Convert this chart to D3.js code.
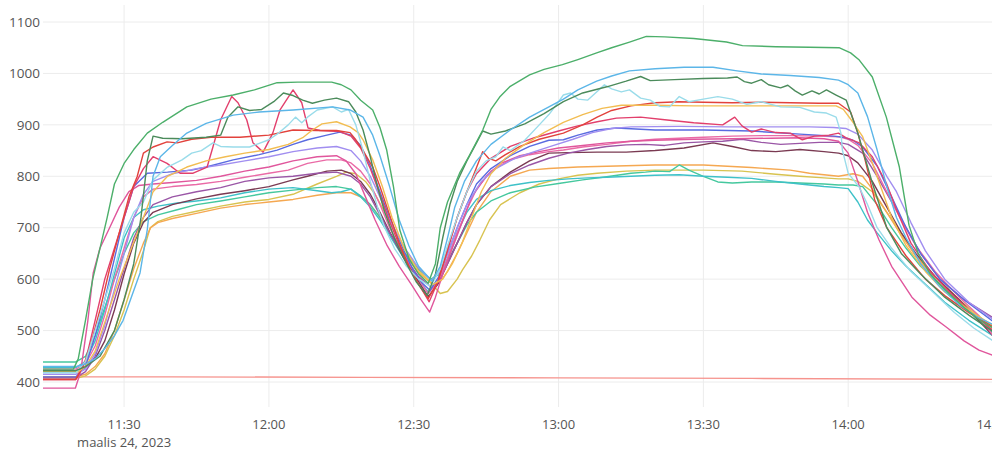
<!DOCTYPE html>
<html>
<head>
<meta charset="utf-8">
<script src="https://cdn.jsdelivr.net/npm/d3@7"></script>
<style>
  html, body { margin: 0; padding: 0; background: #fff; }
  svg { display: block; }
  text { font-family: "Open Sans", "DejaVu Sans", sans-serif; }
</style>
</head>
<body>
<svg id="chart" width="992" height="452"></svg>
<script>
// ---------- DATA (minutes after 11:00 on 24 March 2023, value) ----------
const dateLabel = "maalis 24, 2023";
const yTicks = [400, 500, 600, 700, 800, 900, 1000, 1100];
const xStartMinute = 13.2;
const xEndMinute = 210;

const sGreen = [[13.2,425],[19.5,425],[20.5,445],[22,520],[23.5,600],[25,660],[26.5,720],[28,785],[30,825],[32,852],[34.8,884],[38,905],[43,935],[48,950],[52.6,958],[57,968],[61.7,982],[66,983],[73,983],[75,978],[77,968],[79,948],[81.5,929],[83,895],[84.4,851],[85.8,780],[87.1,696],[89,640],[91,610],[93,592],[94.5,630],[95.5,700],[97,750],[99.5,806],[101.5,840],[104.3,890],[106,930],[107.8,954],[110,975],[114,997],[117,1008],[120.8,1017],[124,1027],[127.9,1040],[131,1050],[134.7,1061],[138.2,1072],[142,1071],[148,1068],[154.8,1061],[158.1,1054],[165,1052],[172,1051],[178.1,1050],[180.5,1040],[182.3,1026],[185,993],[187.9,915],[190.6,818],[192.6,705],[194.5,650],[197,610],[200,580],[204,545],[207,522],[210,505]];
const sLightBlue = [[13.2,430],[20,430],[22,435],[24,445],[26,465],[28,490],[29.8,520],[31.5,565],[33.3,612],[34.8,696],[36,800],[37.5,838],[40,860],[43,884],[47,903],[52.6,919],[58,925],[65,929],[73.2,935],[76.8,929],[79.5,915],[81.5,880],[83,840],[85,780],[87,715],[89,665],[91,625],[93.8,596],[95.5,625],[97,680],[98.5,740],[100.5,790],[103,830],[106,862],[110,890],[114,915],[118,935],[121,950],[124,968],[127.9,985],[131,995],[134.7,1005],[140,1009],[146,1012],[152,1012],[157,1005],[162,999],[168,996],[174,992],[178,987],[180,978],[182,962],[184,916],[186,851],[188,780],[190,720],[192,680],[195,630],[199,585],[203,550],[207,525],[210,512]];
const sDarkGreen = [[13.2,422],[20,422],[22,430],[25,450],[28,500],[30,560],[32,630],[33.5,720],[34.8,830],[36,878],[38,874],[42,873],[47,876],[50,880],[51.5,915],[53.6,935],[56,928],[58.5,930],[61,945],[63,962],[65,957],[67,948],[69,942],[71.5,948],[74,952],[76.5,945],[78,925],[79.5,890],[81,838],[82.5,779],[84,730],[86,680],[88.5,630],[90.5,595],[92.8,568],[94.5,610],[96,680],[97.5,745],[99,790],[101,830],[103,865],[104.3,888],[106,882],[109,888],[113,902],[117,922],[121,945],[125,962],[130,974],[134,985],[137,994],[139,986],[144,988],[150,990],[155,991],[157,993],[158.5,984],[160,981],[162,988],[163.5,978],[166,972],[167.5,977],[169,966],[170.5,958],[172.5,966],[174,960],[175.5,968],[177.5,958],[179.6,948],[182,884],[185,787],[188,700],[191,650],[195,610],[200,565],[205,530],[210,498]];
const sLightCyan = [[13.2,418],[20,418],[22,440],[24,500],[26,560],[28,620],[30,690],[32,730],[34,750],[36,793],[39,818],[42,832],[44,845],[46,850],[48.4,865],[50,858],[52.6,857],[56,857],[58,864],[60,871],[62,884],[64,900],[65.5,915],[66.8,904],[68,915],[70,929],[73.2,935],[75,925],[76.5,930],[78,900],[79.5,850],[81,790],[82.5,740],[84,700],[86,660],[88.5,625],[91,600],[93.5,586],[95.5,620],[97,665],[99,720],[101,770],[103,810],[105,830],[107,838],[108.5,857],[110,850],[113,870],[116,900],[118,920],[120,945],[121,958],[122.5,962],[124,950],[126,948],[128,965],[129.5,978],[131,970],[133,964],[134.7,968],[137,952],[139,948],[141,936],[143,935],[145,955],[147,945],[150,950],[153,955],[156,950],[159,940],[162,945],[166,935],[170,934],[173,925],[175.5,923],[177.5,915],[178.5,884],[178.8,851],[180,806],[182.3,779],[184,745],[186,700],[189,660],[193,615],[197,580],[202,535],[206,505],[210,480]];
const sRed = [[13.2,405],[20,405],[21.5,430],[23,470],[25,540],[27,620],[29,690],[31,760],[32.7,799],[34,845],[36,857],[38.9,867],[41,865],[44,872],[48,876],[54,876],[60,880],[65,890],[70,889],[74,889],[76.8,885],[78,871],[79.5,850],[81.5,818],[83,780],[85,725],[87,670],[89,625],[91,590],[93,562],[95,595],[97,660],[99,720],[101,770],[102.5,805],[104.3,848],[105.5,835],[107,830],[109,842],[112,858],[116,872],[121,884],[125,900],[128,915],[131,928],[135,937],[140,943],[145,945],[150,944],[156,943],[162,944],[168,943],[174,942],[178,942],[180.5,925],[182,884],[183.5,832],[185.5,754],[188,700],[192,645],[196,600],[200,568],[205,535],[210,508]];
const sGold = [[13.2,420],[20.5,420],[22,430],[24,460],[26.5,530],[29,600],[31.5,660],[34,720],[36,770],[39,800],[43,818],[47,830],[51,838],[55,845],[60,852],[64,862],[67,875],[69,890],[71,902],[74,906],[76.8,896],[78.5,885],[79.5,871],[81.5,832],[83.5,780],[85.5,720],[88,660],[91,615],[94,590],[96,600],[98,630],[100,670],[102,720],[104,770],[106,805],[109,835],[113,862],[117,885],[121,905],[125,920],[129,932],[133,938],[140,938],[148,937],[156,937],[164,937],[172,937],[177.5,937],[179,930],[181,905],[183,877],[185,826],[187,773],[189,720],[192,665],[196,615],[200,575],[205,540],[210,510]];
const sCrimson = [[13.2,405],[20,405],[22,440],[24,520],[26,600],[28,660],[30,720],[32,780],[34,815],[36,838],[38.9,825],[41.6,806],[44.3,806],[47.2,818],[48.4,857],[50,910],[52.3,955],[53.6,943],[55.4,910],[56.7,865],[58.8,847],[60.8,884],[62.3,929],[65,968],[66.8,943],[68.1,894],[70.6,889],[74.7,887],[77,878],[79,855],[81,815],[83,765],[85,712],[87.5,655],[90,605],[91.8,578],[93.2,556],[95,595],[97,655],[99,720],[101,770],[103,805],[106,835],[110,858],[115,875],[120,888],[124,898],[128,906],[132,913],[137,915],[142,910],[148,904],[154,900],[156.5,915],[158,898],[160,886],[162,892],[165,885],[168,884],[170.5,871],[173,878],[176,880],[178,884],[179.5,875],[182.3,865],[185,838],[187.9,787],[190,735],[193,670],[197,615],[201,575],[205,540],[210,500]];
const sLavender = [[13.2,415],[20,415],[22,425],[24,455],[26,510],[28,580],[30,650],[32,720],[34,765],[36,790],[40,805],[45,815],[50,822],[55,830],[60,838],[65,848],[70,855],[74,858],[77,850],[79,830],[81,800],[83,760],[85,715],[88,662],[91,622],[93.6,598],[95.5,615],[97,650],[99,700],[101,745],[104,790],[107,815],[111,835],[115,848],[119,860],[123,872],[127,885],[131,893],[135,896],[145,897],[155,896],[165,896],[172,896],[177,895],[179.5,893],[182,882],[185,851],[188,800],[190,770],[193,710],[196,655],[200,600],[205,555],[210,522]];
const sBlue = [[13.2,410],[20,410],[22,430],[24,490],[26,560],[28,640],[30,720],[32,780],[34.8,806],[39,808],[44,812],[47,818],[52.6,832],[58,842],[61.7,851],[65,862],[68,871],[72,880],[74.7,886],[77,880],[79,860],[81,820],[83,770],[85,720],[87.5,665],[90,615],[91.8,592],[93.4,578],[95.2,605],[97,650],[99,700],[101,745],[103,785],[106,815],[110,840],[114,858],[118,870],[121,871],[124,880],[128,890],[132,894],[140,890],[150,890],[160,888],[170,882],[177,878],[179,876],[181,870],[183,857],[186,820],[189,760],[192,700],[195,650],[199,600],[204,560],[210,518]];
const sPink = [[13.2,425],[20,425],[22,435],[24,470],[26,530],[28,600],[30,660],[32,720],[34,760],[36,775],[40,780],[45,784],[50,790],[55,798],[60,806],[64,812],[68,825],[72,832],[75,832],[77,826],[79,810],[81,785],[83,745],[85,700],[88,645],[91,600],[93,572],[95,595],[97,640],[99,690],[101,735],[103,775],[106,810],[110,832],[114,842],[118,848],[121,851],[125,857],[130,862],[135,868],[140,872],[145,874],[150,876],[156,878],[162,879],[168,879],[174,878],[178,877],[180,872],[182,860],[185,825],[188,770],[191,715],[194,665],[198,615],[203,565],[207,530],[210,490]];
const sDeepPink = [[13.2,388],[19.9,388],[21,420],[22.5,520],[23.6,612],[25,660],[27,700],[29,740],[31,770],[33,782],[36,785],[40,788],[45,792],[50,800],[55,810],[60,818],[65,830],[70,838],[74,840],[76,830],[78,805],[80,760],[82,715],[84.5,665],[87,625],[89.5,590],[91.5,560],[93.3,536],[94.5,565],[96,610],[98,660],[100,710],[102,760],[105,800],[108,825],[112,840],[116,848],[120,855],[125,860],[130,865],[135,868],[140,870],[148,872],[156,873],[164,874],[170,875],[175,873],[178,868],[180,845],[182,790],[184,730],[186.4,676],[189,625],[193.2,565],[197,530],[200.3,507],[204,480],[207.1,462],[210,452]];
const sPurple = [[13.2,408],[20,408],[22,420],[24,450],[26,500],[28,560],[30,620],[32,680],[34,720],[36,745],[40,760],[45,770],[50,778],[55,790],[60,797],[65,800],[70,806],[74,808],[77,800],[79,785],[81,760],[83,725],[85,690],[88,645],[91,605],[93.8,583],[95.5,600],[97,630],[99,670],[101,710],[103,745],[106,780],[110,805],[114,822],[118,835],[122,845],[126,852],[130,858],[134,861],[138,862],[142,860],[146,865],[150,867],[154,868],[158,872],[162,866],[166,862],[170,864],[174,866],[178,866],[180,862],[183,845],[186,800],[189,750],[192,700],[195,650],[199,600],[204,560],[210,525]];
const sMaroon = [[13.2,422],[20,422],[22,428],[24,445],[26,480],[28,540],[30,610],[32,670],[34,710],[36,730],[40,745],[45,756],[50,765],[55,772],[60,780],[65,793],[68,800],[72,810],[75,812],[77,805],[79,790],[81,765],[83,730],[85,692],[88,640],[91,595],[93,566],[95,590],[97,630],[99,670],[101,710],[103,745],[106,780],[110,808],[114,830],[118,845],[122,846],[128,847],[134,847],[140,850],[146,855],[152,865],[156,858],[160,850],[165,848],[170,852],[175,848],[178,845],[180,840],[182,826],[185,790],[188,740],[191,690],[194,650],[198,605],[203,560],[210,490]];
const sOrange = [[13.2,410],[20,410],[22,415],[24,430],[26,455],[28,500],[30,560],[32,620],[34,670],[35.5,700],[37,710],[40,718],[45,728],[50,738],[55,745],[60,750],[65,755],[70,763],[74,768],[77,768],[79,760],[81,745],[83,720],[85,690],[88,650],[91,612],[94,590],[95.5,595],[97,615],[99,650],[101,690],[103,730],[106,770],[110,800],[114,812],[118,815],[124,818],[132,820],[140,822],[150,822],[160,817],[168,812],[172,806],[176,802],[178,800],[181,805],[183,800],[185,775],[188,730],[191,685],[194,645],[198,600],[203,555],[210,500]];
const sOlive = [[13.2,408],[20.5,408],[22,412],[24,425],[26,450],[28,490],[30,540],[32,600],[34,655],[35.4,700],[37,712],[40,722],[45,732],[50,742],[55,750],[60,755],[65,765],[70,785],[74,800],[76,808],[78,805],[80,790],[82,765],[84,730],[86,695],[88.5,655],[91,618],[93.3,595],[95.5,572],[97,576],[99,600],[100.1,618],[102,645],[103.7,676],[105.7,715],[108,745],[112,768],[116,785],[120,795],[124,802],[128,806],[134,810],[140,812],[150,812],[158,810],[165,804],[170,800],[175,797],[178,795],[180,795],[182,790],[185,770],[188,730],[191,690],[194,645],[198,605],[203,560],[210,505]];
const sTeal = [[13.2,439],[20,439],[22,450],[24,490],[26,545],[28,600],[30,650],[32,690],[34,712],[37,725],[41,735],[45,745],[50,752],[55,760],[60,768],[65,773],[70,778],[74,780],[77,775],[79,762],[81,745],[83,720],[85,690],[88,652],[91,620],[93.5,600],[95.5,610],[97,635],[99,670],[101,705],[103,730],[106,752],[110,768],[115,779],[120,786],[125,793],[130,799],[135,806],[138,808],[140,810],[143,809],[145,822],[147,812],[150,800],[153,789],[156,787],[160,789],[165,789],[170,787],[175,785],[178,783],[181,783],[183,780],[186,745],[189,700],[192,660],[195,625],[199,590],[204,545],[210,495]];
const sTurquoise = [[13.2,428],[20,428],[22,440],[24,480],[26,540],[28,610],[30,680],[32,720],[34,735],[37,742],[41,748],[45,752],[50,758],[55,768],[60,775],[65,778],[70,772],[73,768],[75,770],[77,775],[79,760],[81,740],[83,715],[85,685],[88,640],[91,598],[93,575],[95,596],[97,640],[99,690],[101,730],[103,755],[106,772],[110,782],[114,788],[118,792],[122,795],[126,797],[130,798],[135,800],[140,802],[145,803],[150,800],[155,798],[160,796],[165,790],[170,785],[175,780],[178,778],[180,776],[182,750],[184,715],[186,690],[189,655],[192,625],[196,590],[200,555],[205,520],[210,490]];
const sSalmon = [[13.2,410],[40,410],[80,409],[120,408],[160,407],[210,405]];

const seriesData = [sSalmon, sOlive, sOrange, sTeal, sTurquoise, sMaroon, sPurple, sPink, sDeepPink, sBlue, sLavender, sCrimson, sRed, sGold, sLightCyan, sDarkGreen, sLightBlue, sGreen];
const seriesColors = ["#f6938d", "#d8c350", "#f5a851", "#45c89e", "#3ec1c8", "#7a3a52", "#9a56a6", "#ea6aa6", "#e0569c", "#5a6be0", "#a18ef0", "#e23f6c", "#e2423c", "#f2bd52", "#9adcea", "#4b8b5b", "#5cb6e8", "#4caf6a"];

// ---------- CHART ----------
const svg = d3.select("#chart");
const base = new Date(2023, 2, 24, 11, 0, 0);
const toDate = m => new Date(base.getTime() + m * 60000);

const plot = { left: 43, right: 993, top: 5, bottom: 407 };
const x = d3.scaleTime()
  .domain([toDate(xStartMinute), toDate(xEndMinute)])
  .range([plot.left, plot.right]);
const y = d3.scaleLinear().domain([400, 1100]).range([382, 22]);

svg.append("defs").append("clipPath").attr("id", "clip")
  .append("rect").attr("x", plot.left).attr("y", plot.top)
  .attr("width", plot.right - plot.left).attr("height", plot.bottom - plot.top);

const xTicks = x.ticks(d3.timeMinute.every(30));

// grid
const grid = svg.append("g");
grid.selectAll("line.h").data(yTicks).join("line")
  .attr("x1", plot.left).attr("x2", plot.right)
  .attr("y1", d => y(d)).attr("y2", d => y(d))
  .attr("stroke", "#ececec").attr("stroke-width", 1);
grid.selectAll("line.v").data(xTicks).join("line")
  .attr("x1", d => x(d)).attr("x2", d => x(d))
  .attr("y1", plot.top).attr("y2", plot.bottom)
  .attr("stroke", "#ececec").attr("stroke-width", 1);

// lines
const line = d3.line().x(d => x(toDate(d[0]))).y(d => y(d[1]));
svg.append("g").attr("clip-path", "url(#clip)")
  .selectAll("path").data(seriesData).join("path")
  .attr("d", d => line(d))
  .attr("fill", "none")
  .attr("stroke", (d, i) => seriesColors[i])
  .attr("stroke-width", 1.4)
  .attr("stroke-linejoin", "round");

// y axis labels
svg.append("g").selectAll("text").data(yTicks).join("text")
  .attr("x", 40).attr("y", d => y(d)).attr("dy", "0.35em")
  .attr("text-anchor", "end")
  .attr("font-size", "13.5px").attr("fill", "#555")
  .text(d => d);

// x axis labels
const fmt = d3.timeFormat("%H:%M");
svg.append("g").selectAll("text").data(xTicks).join("text")
  .attr("x", d => x(d)).attr("y", 429)
  .attr("text-anchor", "middle")
  .attr("font-size", "13px").attr("fill", "#555")
  .text(d => fmt(d));
svg.append("text")
  .attr("x", x(xTicks[0])).attr("y", 446.5)
  .attr("text-anchor", "middle")
  .attr("font-size", "13px").attr("fill", "#555")
  .text(dateLabel);
</script>
</body>
</html>
